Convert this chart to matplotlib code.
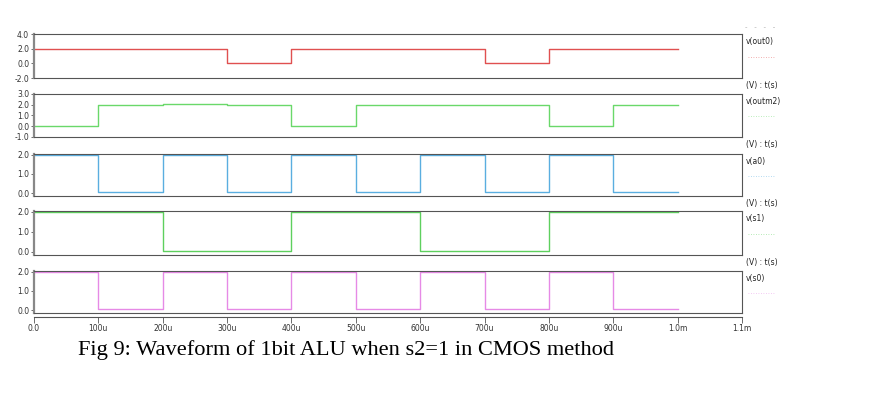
import numpy as np
import matplotlib
matplotlib.use("Agg")
import matplotlib.pyplot as plt

# transition times (s) and levels for each trace, steps held until next edge
t_edges = [0.0, 100e-6, 200e-6, 300e-6, 400e-6, 500e-6, 600e-6, 700e-6, 800e-6, 900e-6, 1.0e-3]

out0 = [2.0, 2.0, 2.0, 0.0, 2.0, 2.0, 2.0, 0.0, 2.0, 2.0]
out2 = [0.0, 2.0, 2.05, 2.0, 0.0, 2.0, 2.0, 2.0, 0.0, 2.0]
a0 = [2.0, 0.04, 2.0, 0.04, 2.0, 0.04, 2.0, 0.04, 2.0, 0.04]
s1 = [2.0, 2.0, 0.04, 0.04, 2.0, 2.0, 0.04, 0.04, 2.0, 2.0]
s0 = [2.0, 0.04, 2.0, 0.04, 2.0, 0.04, 2.0, 0.04, 2.0, 0.04]

names = ["v(out0)", "v(outm2)", "v(a0)", "v(s1)", "v(s0)"]
series = [out0, out2, a0, s1, s0]
colors = ["#e05050", "#6ad86a", "#5aaee0", "#5ed05e", "#e68ae6"]
ylims = [(-2.0, 4.0), (-1.0, 3.0), (-0.15, 2.03), (-0.15, 2.03), (-0.15, 2.03)]
yticks = [[-2.0, 0.0, 2.0, 4.0], [-1.0, 0.0, 1.0, 2.0, 3.0],
          [0.0, 1.0, 2.0], [0.0, 1.0, 2.0], [0.0, 1.0, 2.0]]

xticks = [i * 100e-6 for i in range(12)]
xticklabels = ["0.0", "100u", "200u", "300u", "400u", "500u", "600u",
               "700u", "800u", "900u", "1.0m", "1.1m"]

W, H = 885, 399
fig = plt.figure(figsize=(W / 100, H / 100), dpi=100)

# panel tops / bottoms in pixels
tops = [34, 94, 154, 211, 271]
bots = [78, 137, 196, 255, 313]
x0, x1 = 34, 742

for i in range(5):
    ax = fig.add_axes([x0 / W, 1 - bots[i] / H, (x1 - x0) / W, (bots[i] - tops[i]) / H])
    vals = series[i] + [series[i][-1]]
    ax.step(t_edges, vals, where="post", color=colors[i], lw=1.0)
    ax.set_xlim(0, 1.1e-3)
    ax.set_ylim(*ylims[i])
    ax.set_yticks(yticks[i])
    ax.set_yticklabels(["%.1f" % v for v in yticks[i]], fontsize=5.5,
                       family="DejaVu Sans", color="#333333")
    ax.tick_params(axis="y", length=2, width=0.6, pad=1.5, colors="#555555",
                   labelcolor="#333333")
    ax.set_xticks([])
    for s in ax.spines.values():
        s.set_color("#555555")
        s.set_linewidth(0.8)
    ax.spines["left"].set_linewidth(1.6)
    ax.spines["left"].set_color("#888888")
    ax.text(1.005, 0.93, names[i], transform=ax.transAxes, fontsize=5.5,
            va="top", ha="left", color="#222222")
    # faint legend dots right of the panel
    ax.plot([1.008, 1.047], [0.48, 0.48], transform=ax.transAxes, clip_on=False,
            color=colors[i], lw=0.6, ls=(0, (1, 2)), alpha=0.6)
    if i < 4:
        ax.text(1.005, -0.07, "(V) : t(s)", transform=ax.transAxes, fontsize=5.5,
                va="top", ha="left", color="#222222")

# faint dotted marks above the first label
fig.text(745 / W, 1 - 27 / H, "-   -   -   -", fontsize=5, color="#aaaaaa",
         va="center", ha="left")

# bottom time axis
axb = fig.add_axes([x0 / W, 1 - 317 / H, (x1 - x0) / W, 0.0001])
axb.set_xlim(0, 1.1e-3)
axb.set_yticks([])
for k in ["left", "right", "top"]:
    axb.spines[k].set_visible(False)
axb.spines["bottom"].set_color("#555555")
axb.spines["bottom"].set_linewidth(0.8)
axb.set_xticks(xticks)
axb.set_xticklabels(xticklabels, fontsize=5.5, color="#333333")
axb.tick_params(axis="x", length=4, width=0.6, pad=1, colors="#555555",
                labelcolor="#333333")

fig.text(78 / W, 1 - 355 / H, "Fig 9: Waveform of 1bit ALU when s2=1 in CMOS method",
         family="Liberation Serif", fontsize=16.1, va="baseline", ha="left")

fig.savefig("out.png", dpi=100)
